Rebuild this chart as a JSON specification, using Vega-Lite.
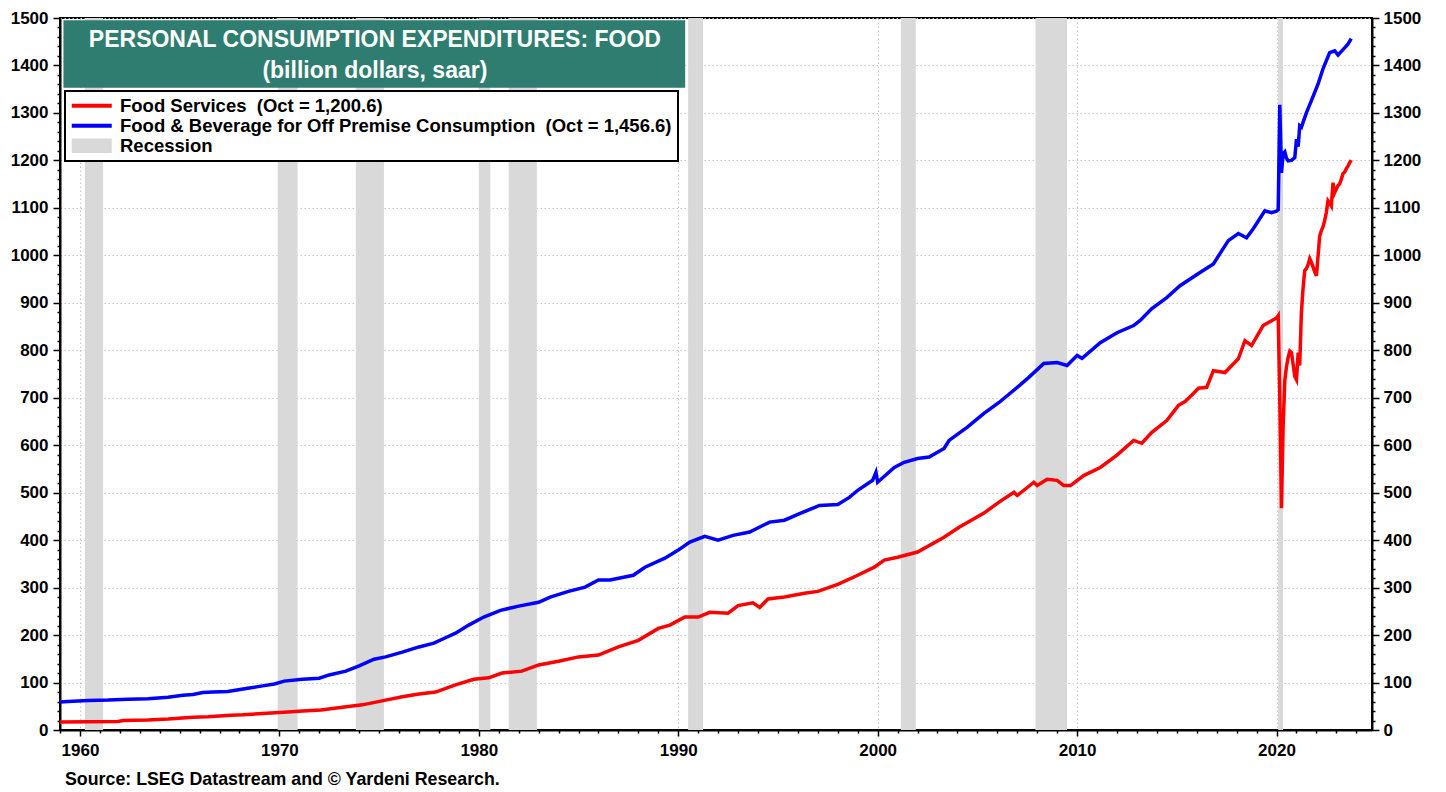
{
  "$schema": "https://vega.github.io/schema/vega-lite/v6.json",
  "width": 1312,
  "height": 712,
  "autosize": {"type": "none"},
  "padding": {"left": 60, "top": 18, "right": 74, "bottom": 62},
  "background": "white",
  "title": {
    "text": "Source: LSEG Datastream and © Yardeni Research.",
    "orient": "bottom",
    "anchor": "start",
    "frame": "group",
    "dx": 5,
    "offset": 13,
    "fontSize": 17.8,
    "fontWeight": "bold",
    "font": "Liberation Sans",
    "color": "black"
  },
  "config": {
    "font": "Liberation Sans",
    "view": {"stroke": "black", "strokeWidth": 2},
    "axis": {
      "domainColor": "black",
      "domainWidth": 2,
      "tickColor": "black",
      "tickWidth": 1.5,
      "labelFont": "Liberation Sans",
      "labelFontSize": 17,
      "labelFontWeight": "bold",
      "labelColor": "black",
      "gridColor": "#c8c8c8",
      "gridDash": [1.5, 2.5],
      "gridWidth": 1
    },
    "legend": {
      "orient": "none",
      "legendX": 5,
      "legendY": 73,
      "direction": "vertical",
      "symbolType": "M-1,0H4",
      "symbolSize": 256,
      "symbolStrokeWidth": 4,
      "labelFont": "Liberation Sans",
      "labelFontSize": 18.5,
      "labelFontWeight": "bold",
      "labelColor": "black",
      "labelLimit": 0,
      "labelOffset": 31,
      "rowPadding": 1,
      "padding": 5.5,
      "fillColor": "white",
      "strokeColor": "black"
    }
  },
  "datasets": {
    "recessions": [
      {"start": "1960-04-01", "end": "1961-02-28"},
      {"start": "1969-12-01", "end": "1970-11-30"},
      {"start": "1973-11-01", "end": "1975-03-31"},
      {"start": "1980-01-01", "end": "1980-07-31"},
      {"start": "1981-07-01", "end": "1982-11-30"},
      {"start": "1990-07-01", "end": "1991-03-31"},
      {"start": "2001-03-01", "end": "2001-11-30"},
      {"start": "2007-12-01", "end": "2009-06-30"},
      {"start": "2020-02-01", "end": "2020-04-30"}
    ],
    "foodServices": [
      {"date": "1959-01-01", "value": 17},
      {"date": "1960-06-01", "value": 17.5},
      {"date": "1961-12-01", "value": 18},
      {"date": "1962-03-01", "value": 20},
      {"date": "1963-06-01", "value": 21},
      {"date": "1964-06-01", "value": 23},
      {"date": "1965-09-01", "value": 27},
      {"date": "1966-06-01", "value": 28},
      {"date": "1967-08-01", "value": 31},
      {"date": "1968-03-01", "value": 32},
      {"date": "1969-08-01", "value": 36},
      {"date": "1970-06-01", "value": 38},
      {"date": "1971-03-01", "value": 40},
      {"date": "1972-02-01", "value": 42},
      {"date": "1973-03-01", "value": 48},
      {"date": "1974-03-01", "value": 53},
      {"date": "1975-05-01", "value": 63},
      {"date": "1976-03-01", "value": 70},
      {"date": "1977-01-01", "value": 76},
      {"date": "1977-11-01", "value": 80},
      {"date": "1978-11-01", "value": 95},
      {"date": "1979-10-01", "value": 107},
      {"date": "1980-07-01", "value": 110},
      {"date": "1981-03-01", "value": 120},
      {"date": "1982-03-01", "value": 124},
      {"date": "1983-01-01", "value": 137},
      {"date": "1984-01-01", "value": 145},
      {"date": "1985-01-01", "value": 154},
      {"date": "1986-01-01", "value": 158},
      {"date": "1987-01-01", "value": 175},
      {"date": "1988-01-01", "value": 189},
      {"date": "1989-01-01", "value": 214},
      {"date": "1989-08-01", "value": 221},
      {"date": "1990-05-01", "value": 238},
      {"date": "1991-01-01", "value": 238},
      {"date": "1991-08-01", "value": 248},
      {"date": "1992-07-01", "value": 246},
      {"date": "1993-01-01", "value": 262},
      {"date": "1993-10-01", "value": 268},
      {"date": "1994-02-01", "value": 258},
      {"date": "1994-07-01", "value": 276},
      {"date": "1995-05-01", "value": 280},
      {"date": "1996-05-01", "value": 288},
      {"date": "1997-01-01", "value": 292},
      {"date": "1998-01-01", "value": 307},
      {"date": "1999-01-01", "value": 326},
      {"date": "1999-11-01", "value": 343},
      {"date": "2000-05-01", "value": 358},
      {"date": "2001-01-01", "value": 364},
      {"date": "2002-01-01", "value": 375},
      {"date": "2003-05-01", "value": 406},
      {"date": "2004-02-01", "value": 427},
      {"date": "2005-05-01", "value": 457},
      {"date": "2006-02-01", "value": 480},
      {"date": "2006-11-01", "value": 501},
      {"date": "2007-01-01", "value": 494},
      {"date": "2007-11-01", "value": 522},
      {"date": "2008-01-01", "value": 515},
      {"date": "2008-07-01", "value": 528},
      {"date": "2009-01-01", "value": 526},
      {"date": "2009-05-01", "value": 515},
      {"date": "2009-09-01", "value": 515},
      {"date": "2010-05-01", "value": 536},
      {"date": "2011-03-01", "value": 553},
      {"date": "2012-01-01", "value": 579},
      {"date": "2012-11-01", "value": 610},
      {"date": "2013-04-01", "value": 604},
      {"date": "2013-10-01", "value": 627},
      {"date": "2014-07-01", "value": 652},
      {"date": "2015-02-01", "value": 684},
      {"date": "2015-06-01", "value": 692},
      {"date": "2015-11-01", "value": 709},
      {"date": "2016-02-01", "value": 720},
      {"date": "2016-07-01", "value": 722},
      {"date": "2016-11-01", "value": 757},
      {"date": "2017-06-01", "value": 753},
      {"date": "2018-02-01", "value": 782},
      {"date": "2018-06-01", "value": 820},
      {"date": "2018-10-01", "value": 810},
      {"date": "2019-05-01", "value": 852},
      {"date": "2019-09-01", "value": 860},
      {"date": "2020-01-01", "value": 868},
      {"date": "2020-02-01", "value": 873},
      {"date": "2020-03-01", "value": 700},
      {"date": "2020-04-01", "value": 467},
      {"date": "2020-05-01", "value": 640},
      {"date": "2020-06-01", "value": 736},
      {"date": "2020-07-01", "value": 765},
      {"date": "2020-08-01", "value": 785},
      {"date": "2020-09-01", "value": 798},
      {"date": "2020-10-01", "value": 795},
      {"date": "2020-11-01", "value": 770},
      {"date": "2020-12-01", "value": 745},
      {"date": "2021-01-01", "value": 738},
      {"date": "2021-02-01", "value": 795},
      {"date": "2021-03-01", "value": 768},
      {"date": "2021-04-01", "value": 880},
      {"date": "2021-05-01", "value": 930},
      {"date": "2021-06-01", "value": 968},
      {"date": "2021-07-01", "value": 972},
      {"date": "2021-08-01", "value": 980},
      {"date": "2021-09-01", "value": 993},
      {"date": "2021-10-01", "value": 985},
      {"date": "2021-11-01", "value": 975},
      {"date": "2021-12-01", "value": 965},
      {"date": "2022-01-01", "value": 957},
      {"date": "2022-02-01", "value": 1000},
      {"date": "2022-03-01", "value": 1040},
      {"date": "2022-04-01", "value": 1052},
      {"date": "2022-05-01", "value": 1060},
      {"date": "2022-06-01", "value": 1073},
      {"date": "2022-07-01", "value": 1090},
      {"date": "2022-08-01", "value": 1115},
      {"date": "2022-09-01", "value": 1110},
      {"date": "2022-10-01", "value": 1104},
      {"date": "2022-11-01", "value": 1153},
      {"date": "2022-12-01", "value": 1132},
      {"date": "2023-01-01", "value": 1140},
      {"date": "2023-02-01", "value": 1147},
      {"date": "2023-03-01", "value": 1150},
      {"date": "2023-04-01", "value": 1160},
      {"date": "2023-05-01", "value": 1172},
      {"date": "2023-06-01", "value": 1175},
      {"date": "2023-07-01", "value": 1182},
      {"date": "2023-08-01", "value": 1188},
      {"date": "2023-09-01", "value": 1195},
      {"date": "2023-10-01", "value": 1200.6}
    ],
    "offPremise": [
      {"date": "1959-01-01", "value": 59},
      {"date": "1959-06-01", "value": 60},
      {"date": "1960-06-01", "value": 62},
      {"date": "1961-06-01", "value": 63},
      {"date": "1962-06-01", "value": 65},
      {"date": "1963-06-01", "value": 66},
      {"date": "1964-06-01", "value": 69},
      {"date": "1965-03-01", "value": 73},
      {"date": "1965-09-01", "value": 75},
      {"date": "1966-03-01", "value": 79},
      {"date": "1966-09-01", "value": 80},
      {"date": "1967-06-01", "value": 81},
      {"date": "1968-06-01", "value": 88},
      {"date": "1969-03-01", "value": 93},
      {"date": "1969-10-01", "value": 97},
      {"date": "1970-04-01", "value": 103},
      {"date": "1971-03-01", "value": 107},
      {"date": "1972-01-01", "value": 109},
      {"date": "1972-07-01", "value": 116},
      {"date": "1973-05-01", "value": 124},
      {"date": "1974-01-01", "value": 135},
      {"date": "1974-10-01", "value": 149},
      {"date": "1975-05-01", "value": 154},
      {"date": "1976-03-01", "value": 164},
      {"date": "1977-01-01", "value": 175},
      {"date": "1977-10-01", "value": 183},
      {"date": "1978-06-01", "value": 196},
      {"date": "1978-11-01", "value": 204},
      {"date": "1979-07-01", "value": 221},
      {"date": "1980-04-01", "value": 238},
      {"date": "1981-02-01", "value": 252},
      {"date": "1982-01-01", "value": 261},
      {"date": "1983-01-01", "value": 269},
      {"date": "1983-08-01", "value": 280},
      {"date": "1984-07-01", "value": 292},
      {"date": "1985-05-01", "value": 301},
      {"date": "1986-01-01", "value": 316},
      {"date": "1986-08-01", "value": 316},
      {"date": "1987-10-01", "value": 326},
      {"date": "1988-05-01", "value": 343},
      {"date": "1989-05-01", "value": 362},
      {"date": "1990-01-01", "value": 379},
      {"date": "1990-08-01", "value": 396},
      {"date": "1991-05-01", "value": 408},
      {"date": "1992-01-01", "value": 400},
      {"date": "1992-10-01", "value": 410},
      {"date": "1993-08-01", "value": 417},
      {"date": "1994-08-01", "value": 438},
      {"date": "1995-05-01", "value": 442},
      {"date": "1996-02-01", "value": 456},
      {"date": "1997-02-01", "value": 473},
      {"date": "1998-01-01", "value": 475},
      {"date": "1998-08-01", "value": 490},
      {"date": "1999-01-01", "value": 505},
      {"date": "1999-10-01", "value": 526},
      {"date": "1999-12-01", "value": 543},
      {"date": "2000-01-01", "value": 522},
      {"date": "2000-11-01", "value": 553},
      {"date": "2001-05-01", "value": 564},
      {"date": "2002-01-01", "value": 572},
      {"date": "2002-08-01", "value": 575},
      {"date": "2003-05-01", "value": 593},
      {"date": "2003-08-01", "value": 610},
      {"date": "2004-07-01", "value": 638},
      {"date": "2005-05-01", "value": 667},
      {"date": "2006-02-01", "value": 690},
      {"date": "2007-01-01", "value": 722},
      {"date": "2007-08-01", "value": 743},
      {"date": "2008-05-01", "value": 772},
      {"date": "2009-01-01", "value": 774},
      {"date": "2009-07-01", "value": 768},
      {"date": "2010-01-01", "value": 789},
      {"date": "2010-04-01", "value": 783},
      {"date": "2011-03-01", "value": 816},
      {"date": "2012-01-01", "value": 837},
      {"date": "2012-11-01", "value": 852},
      {"date": "2013-03-01", "value": 863},
      {"date": "2013-10-01", "value": 888},
      {"date": "2014-07-01", "value": 911},
      {"date": "2015-03-01", "value": 936},
      {"date": "2016-03-01", "value": 964},
      {"date": "2016-11-01", "value": 982},
      {"date": "2017-08-01", "value": 1031},
      {"date": "2018-02-01", "value": 1046},
      {"date": "2018-07-01", "value": 1037},
      {"date": "2018-11-01", "value": 1056},
      {"date": "2019-06-01", "value": 1094},
      {"date": "2019-10-01", "value": 1090},
      {"date": "2020-01-01", "value": 1093},
      {"date": "2020-02-01", "value": 1096},
      {"date": "2020-03-01", "value": 1317},
      {"date": "2020-04-01", "value": 1174},
      {"date": "2020-05-01", "value": 1214},
      {"date": "2020-06-01", "value": 1218},
      {"date": "2020-07-01", "value": 1205},
      {"date": "2020-08-01", "value": 1199},
      {"date": "2020-10-01", "value": 1200},
      {"date": "2020-11-01", "value": 1203},
      {"date": "2020-12-01", "value": 1206},
      {"date": "2021-01-01", "value": 1245},
      {"date": "2021-02-01", "value": 1229},
      {"date": "2021-03-01", "value": 1273},
      {"date": "2021-04-01", "value": 1270},
      {"date": "2021-05-01", "value": 1280},
      {"date": "2021-07-01", "value": 1300},
      {"date": "2021-10-01", "value": 1326},
      {"date": "2022-02-01", "value": 1361},
      {"date": "2022-05-01", "value": 1393},
      {"date": "2022-09-01", "value": 1427},
      {"date": "2022-12-01", "value": 1431},
      {"date": "2023-02-01", "value": 1422},
      {"date": "2023-06-01", "value": 1437},
      {"date": "2023-08-01", "value": 1445},
      {"date": "2023-10-01", "value": 1456.6}
    ]
  },
  "layer": [
    {
      "data": {"name": "recessions"},
      "mark": {"type": "rect", "opacity": 1},
      "encoding": {
        "x": {
          "field": "start",
          "type": "temporal",
          "title": null,
          "scale": {"type": "utc", "domain": ["1959-01-01", "2024-10-15"], "nice": false},
          "axis": {
            "orient": "bottom",
            "tickCount": {"interval": "year", "step": 1},
            "labelExpr": "utcyear(datum.value) % 10 === 0 ? utcFormat(datum.value, '%Y') : ''",
            "labelOverlap": false,
            "labelBound": false,
            "labelFlush": false,
            "labelPadding": 6,
            "tickSize": {"condition": {"test": "utcyear(datum.value) % 10 === 0", "value": 6}, "value": 3},
            "grid": true,
            "gridOpacity": {"condition": {"test": "utcyear(datum.value) % 10 === 0", "value": 1}, "value": 0}
          }
        },
        "x2": {"field": "end"},
        "color": {
          "datum": "Recession",
          "scale": {
            "domain": ["Food Services\u00a0 (Oct = 1,200.6)", "Food & Beverage for Off Premise Consumption\u00a0 (Oct = 1,456.6)", "Recession"],
            "range": ["#ff0000", "#0000ff", "#d9d9d9"]
          },
          "legend": {
            "title": null,
            "encode": {
              "symbols": {
                "update": {
                  "shape": {"signal": "datum.value === 'Recession' ? 'M-1,-0.9H4V0.9H-1Z' : 'M-1,0H4'"},
                  "stroke": {"scale": "color", "field": "value"},
                  "fill": {"scale": "color", "field": "value"},
                  "strokeWidth": {"signal": "datum.value === 'Recession' ? 0 : 4"}
                }
              },
              "legend": {"update": {"strokeWidth": {"value": 2}}}
            }
          }
        }
      }
    },
    {
      "data": {"name": "foodServices"},
      "mark": {"type": "line", "strokeWidth": 3.5},
      "encoding": {
        "x": {"field": "date", "type": "temporal", "title": null},
        "y": {
          "field": "value",
          "type": "quantitative",
          "title": null,
          "scale": {"domain": [0, 1500], "nice": false},
          "axis": {
            "orient": "left",
            "values": [0,20,40,60,80,100,120,140,160,180,200,220,240,260,280,300,320,340,360,380,400,420,440,460,480,500,520,540,560,580,600,620,640,660,680,700,720,740,760,780,800,820,840,860,880,900,920,940,960,980,1000,1020,1040,1060,1080,1100,1120,1140,1160,1180,1200,1220,1240,1260,1280,1300,1320,1340,1360,1380,1400,1420,1440,1460,1480,1500],
            "labelExpr": "datum.value % 100 === 0 ? datum.value : ''",
            "labelOverlap": false,
            "labelBound": false,
            "labelFlush": false,
            "labelPadding": 5,
            "tickSize": {"condition": {"test": "datum.value % 100 === 0", "value": 7}, "value": 3},
            "grid": true,
            "gridOpacity": {"condition": {"test": "datum.value % 100 === 0", "value": 1}, "value": 0}
          }
        },
        "color": {
          "datum": "Food Services\u00a0 (Oct = 1,200.6)",
          "legend": {
            "title": null,
            "encode": {
              "symbols": {
                "update": {
                  "shape": {"signal": "datum.value === 'Recession' ? 'M-1,-0.9H4V0.9H-1Z' : 'M-1,0H4'"},
                  "stroke": {"scale": "color", "field": "value"},
                  "fill": {"scale": "color", "field": "value"},
                  "strokeWidth": {"signal": "datum.value === 'Recession' ? 0 : 4"}
                }
              },
              "legend": {"update": {"strokeWidth": {"value": 2}}}
            }
          }
        }
      }
    },
    {
      "data": {"name": "offPremise"},
      "mark": {"type": "line", "strokeWidth": 3.5},
      "encoding": {
        "x": {"field": "date", "type": "temporal", "title": null},
        "y": {
          "field": "value",
          "type": "quantitative",
          "title": null,
          "scale": {"domain": [0, 1500], "nice": false},
          "axis": null
        },
        "color": {
          "datum": "Food & Beverage for Off Premise Consumption\u00a0 (Oct = 1,456.6)",
          "legend": {
            "title": null,
            "encode": {
              "symbols": {
                "update": {
                  "shape": {"signal": "datum.value === 'Recession' ? 'M-1,-0.9H4V0.9H-1Z' : 'M-1,0H4'"},
                  "stroke": {"scale": "color", "field": "value"},
                  "fill": {"scale": "color", "field": "value"},
                  "strokeWidth": {"signal": "datum.value === 'Recession' ? 0 : 4"}
                }
              },
              "legend": {"update": {"strokeWidth": {"value": 2}}}
            }
          }
        }
      }
    },
    {
      "data": {"values": [{}]},
      "mark": {"type": "rect", "fill": "#2e7d70"},
      "encoding": {
        "x": {"datum": {"year": 1959, "month": 3, "date": 5, "utc": true}, "type": "temporal", "title": null},
        "x2": {"datum": {"year": 1990, "month": 5, "date": 8, "utc": true}},
        "y": {
          "datum": 1495,
          "type": "quantitative",
          "title": null,
          "scale": {"domain": [0, 1500], "nice": false},
          "axis": {
            "orient": "right",
            "values": [0,20,40,60,80,100,120,140,160,180,200,220,240,260,280,300,320,340,360,380,400,420,440,460,480,500,520,540,560,580,600,620,640,660,680,700,720,740,760,780,800,820,840,860,880,900,920,940,960,980,1000,1020,1040,1060,1080,1100,1120,1140,1160,1180,1200,1220,1240,1260,1280,1300,1320,1340,1360,1380,1400,1420,1440,1460,1480,1500],
            "labelExpr": "datum.value % 100 === 0 ? datum.value : ''",
            "labelOverlap": false,
            "labelBound": false,
            "labelFlush": false,
            "labelPadding": 4,
            "tickSize": {"condition": {"test": "datum.value % 100 === 0", "value": 7}, "value": 3},
            "grid": false
          }
        },
        "y2": {"datum": 1353}
      }
    },
    {
      "data": {"values": [{}]},
      "mark": {
        "type": "text",
        "color": "white",
        "font": "Liberation Sans",
        "fontSize": 23,
        "fontWeight": "bold",
        "align": "center",
        "baseline": "middle",
        "lineHeight": 31
      },
      "encoding": {
        "x": {"datum": {"year": 1974, "month": 10, "date": 16, "utc": true}, "type": "temporal", "title": null},
        "y": {
          "datum": 1454,
          "type": "quantitative",
          "scale": {"domain": [0, 1500], "nice": false},
          "axis": null
        },
        "text": {"value": ["PERSONAL CONSUMPTION EXPENDITURES: FOOD", "(billion dollars, saar)"]}
      }
    }
  ],
  "resolve": {"scale": {"y": "independent"}}
}
